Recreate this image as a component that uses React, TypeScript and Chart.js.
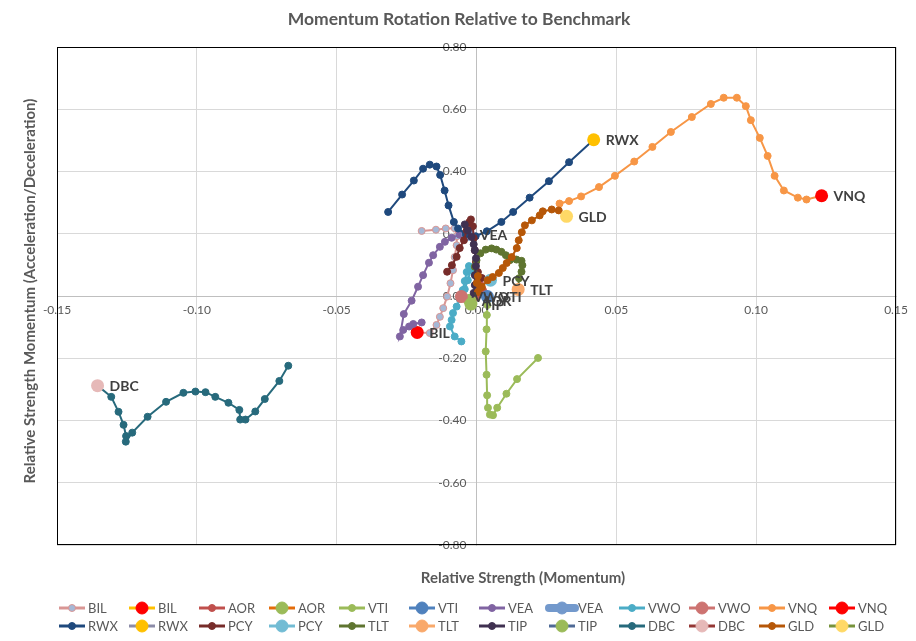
import React, { useEffect, useRef } from "react";
import { Chart, registerables } from "chart.js";

Chart.register(...registerables);

const TITLE = "Momentum Rotation Relative to Benchmark";
const X_TITLE = "Relative Strength (Momentum)";
const Y_TITLE = "Relative Strength Momentum (Acceleration/Deceleration)";

const X_MIN = -0.15;
const X_MAX = 0.15;
const X_STEP = 0.05;
const Y_MIN = -0.8;
const Y_MAX = 0.8;
const Y_STEP = 0.2;

const SYMBOLS = ["BIL", "AOR", "VTI", "VEA", "VWO", "VNQ", "RWX", "PCY", "TLT", "TIP", "DBC", "GLD"];

// Trails: [relative strength, momentum]; last point is the latest (head) value
const BIL: [number, number][] = [
  [-0.0196, 0.209], [-0.0145, 0.213], [-0.011, 0.217], [-0.0078, 0.218], [-0.007, 0.192],
  [-0.0071, 0.163], [-0.0078, 0.125], [-0.0084, 0.083], [-0.0093, 0.041], [-0.0105, -0.002],
  [-0.0119, -0.039], [-0.0131, -0.067], [-0.0143, -0.093], [-0.0167, -0.119], [-0.0212, -0.117],
];
const AOR: [number, number][] = [
  [0.0005, 0.051], [0.0015, 0.035], [0.0023, 0.019], [0.0012, 0.006], [-0.0002, -0.003], [-0.0024, -0.014],
];
const VTI: [number, number][] = [
  [0.022, -0.199], [0.0145, -0.267], [0.0107, -0.314], [0.0074, -0.359], [0.0059, -0.383],
  [0.0048, -0.381], [0.0041, -0.359], [0.0038, -0.319], [0.0036, -0.253], [0.0033, -0.178],
  [0.0036, -0.107], [0.0037, -0.061], [0.0039, -0.029], [0.0039, -0.002],
];
const VEA: [number, number][] = [
  [-0.0196, -0.085], [-0.0226, -0.09], [-0.0241, -0.098], [-0.0262, -0.109], [-0.0274, -0.13],
  [-0.026, -0.058], [-0.0232, -0.015], [-0.0209, 0.03], [-0.0191, 0.067], [-0.017, 0.107],
  [-0.0155, 0.131], [-0.0131, 0.158], [-0.0113, 0.174], [-0.0089, 0.187], [-0.006, 0.197],
  [-0.0038, 0.203], [-0.0031, 0.198],
];
const VWO: [number, number][] = [
  [-0.0054, -0.146], [-0.0078, -0.13], [-0.0095, -0.098], [-0.0089, -0.077], [-0.0084, -0.055],
  [-0.0071, -0.034], [-0.006, -0.01], [-0.0049, 0.019], [-0.0042, 0.048], [-0.0035, 0.077],
  [-0.0027, 0.096], [-0.002, 0.083], [-0.0031, 0.051], [-0.0042, 0.022], [-0.0054, -0.002],
];
const VNQ: [number, number][] = [
  [0.0297, 0.297], [0.0331, 0.305], [0.0374, 0.32], [0.0438, 0.35], [0.0495, 0.386],
  [0.0564, 0.432], [0.0629, 0.479], [0.0695, 0.527], [0.077, 0.575], [0.0838, 0.617],
  [0.0884, 0.637], [0.0931, 0.637], [0.0963, 0.61], [0.0981, 0.565], [0.1013, 0.508],
  [0.1041, 0.45], [0.1066, 0.386], [0.1099, 0.339], [0.1149, 0.316], [0.118, 0.31], [0.1234, 0.322],
];
const RWX: [number, number][] = [
  [-0.0316, 0.27], [-0.0266, 0.326], [-0.0224, 0.371], [-0.0191, 0.409], [-0.0167, 0.422],
  [-0.0143, 0.416], [-0.013, 0.389], [-0.0114, 0.339], [-0.01, 0.291], [-0.0081, 0.238],
  [-0.0066, 0.217], [-0.0038, 0.198], [-0.0003, 0.192], [0.0037, 0.208], [0.0089, 0.238],
  [0.0131, 0.27], [0.019, 0.316], [0.0259, 0.369], [0.0331, 0.43], [0.0419, 0.502],
];
const PCY: [number, number][] = [
  [-0.0105, 0.078], [-0.0088, 0.099], [-0.0071, 0.126], [-0.006, 0.154], [-0.0045, 0.179],
  [-0.0035, 0.211], [-0.0026, 0.237], [-0.002, 0.246], [-0.0013, 0.224], [-0.001, 0.186],
  [-0.0006, 0.147], [-0.0002, 0.109], [0.0005, 0.077], [0.0019, 0.058], [0.005, 0.051],
];
const TLT: [number, number][] = [
  [-0.0002, 0.067], [-0.0006, 0.094], [0.0, 0.115], [0.0014, 0.137], [0.0033, 0.149],
  [0.0054, 0.153], [0.0071, 0.149], [0.0089, 0.142], [0.0105, 0.131], [0.0119, 0.115],
  [0.0143, 0.117], [0.0161, 0.113], [0.0164, 0.099], [0.0161, 0.078], [0.0152, 0.057], [0.0149, 0.021],
];
const TIP: [number, number][] = [
  [-0.0042, 0.23], [-0.0031, 0.211], [-0.0018, 0.19], [-0.001, 0.166], [-0.0006, 0.147],
  [-0.0002, 0.121], [-0.0002, 0.096], [-0.0006, 0.067], [-0.0006, 0.035], [-0.001, 0.01], [-0.002, -0.026],
];
const DBC: [number, number][] = [
  [-0.0673, -0.224], [-0.0705, -0.273], [-0.0757, -0.331], [-0.0791, -0.371], [-0.0826, -0.397],
  [-0.0845, -0.397], [-0.0848, -0.366], [-0.0887, -0.343], [-0.0934, -0.324], [-0.0969, -0.309],
  [-0.1005, -0.307], [-0.1048, -0.311], [-0.111, -0.34], [-0.1176, -0.388], [-0.1231, -0.439],
  [-0.1254, -0.468], [-0.1253, -0.45], [-0.1262, -0.414], [-0.128, -0.372], [-0.1306, -0.324], [-0.1355, -0.288],
];
const GLD: [number, number][] = [
  [0.0005, 0.013], [0.0001, 0.042], [0.0005, 0.064], [0.0019, 0.029], [0.004, 0.051],
  [0.0058, 0.061], [0.008, 0.074], [0.0094, 0.09], [0.0108, 0.106], [0.0126, 0.125],
  [0.0144, 0.154], [0.0151, 0.179], [0.0162, 0.205], [0.0173, 0.227], [0.0198, 0.243],
  [0.0226, 0.259], [0.0237, 0.272], [0.0269, 0.278], [0.0294, 0.275], [0.0322, 0.256],
];

const TRAILS = [BIL, AOR, VTI, VEA, VWO, VNQ, RWX, PCY, TLT, TIP, DBC, GLD];

// Styles
const TRAIL_LINE = ["#D99694", "#C0504D", "#9BBB59", "#8064A2", "#4BACC6", "#F79646",
  "#1F497D", "#772C2A", "#5F7530", "#403151", "#276A7C", "#B65708"];
const TRAIL_FILL = ["#A5B8D6", "#C0504D", "#9BBB59", "#8064A2", "#4BACC6", "#F79646",
  "#1F497D", "#772C2A", "#5F7530", "#403151", "#276A7C", "#B65708"];
const HEAD_FILL = ["#FF0000", "#9BBB59", "#4F81BD", "#7399CC", "#CD7371", "#FF0000",
  "#FFC000", "#72BCD4", "#F9A96B", "#9BBB59", "#E6B9B8", "#FFD966"];
const HEAD_LINE = ["#FFC000", "#E46C0A", "#4F81BD", "#7399CC", "#CD7371", "#FF0000",
  "#8C8CA8", "#72BCD4", "#F9A96B", "#4F6A96", "#953735", "#77933C"];
const HEAD_LINE_W = [3, 3, 3, 8, 3, 3, 3, 3, 3, 3, 3, 3];

const FONT = "Lato, 'Open Sans', sans-serif";
const TEXT = "#595959";

const toXY = (arr: [number, number][]) => arr.map(([x, y]) => ({ x, y }));

const framePlugin = {
  id: "frame",
  beforeDraw(chart: any) {
    // keep y tick labels a little away from the vertical zero axis
    const ys = chart.scales.y;
    if (ys && ys.getLabelItems) {
      ys.getLabelItems(chart.chartArea).forEach((it: any) => {
        if (!it.__shifted) {
          it.options.translation[0] -= 10;
          it.__shifted = true;
        }
      });
    }
  },
  beforeDatasetsDraw(chart: any) {
    const { ctx, chartArea: a } = chart;
    ctx.save();
    ctx.strokeStyle = "#000000";
    ctx.lineWidth = 1;
    ctx.strokeRect(Math.round(a.left) + 0.5, Math.round(a.top) + 0.5, Math.round(a.right - a.left) - 1, Math.round(a.bottom - a.top) - 1);
    ctx.restore();
  },
};

const labelPlugin = {
  id: "headLabels",
  afterDatasetsDraw(chart: any) {
    const { ctx } = chart;
    ctx.save();
    ctx.font = `bold 14px ${FONT}`;
    ctx.fillStyle = "#404040";
    ctx.textBaseline = "middle";
    ctx.textAlign = "left";
    SYMBOLS.forEach((s, i) => {
      const meta = chart.getDatasetMeta(i * 2 + 1);
      const el = meta.data[0];
      if (!el) return;
      ctx.fillText(s, el.x + 12, el.y + 1);
    });
    ctx.restore();
  },
};

const textPlugin = {
  id: "texts",
  afterDraw(chart: any) {
    const { ctx, width } = chart;
    ctx.save();
    ctx.fillStyle = TEXT;
    ctx.textAlign = "center";
    ctx.textBaseline = "middle";
    ctx.font = `bold 17.5px ${FONT}`;
    ctx.fillText(TITLE, width / 2 + 1, 19);
    ctx.font = `bold 15px ${FONT}`;
    ctx.fillText(X_TITLE, 523, 578);
    ctx.translate(30, 291);
    ctx.rotate(-Math.PI / 2);
    ctx.fillText(Y_TITLE, 0, 0);
    ctx.restore();

    // Legend
    ctx.save();
    ctx.font = `13px ${FONT}`;
    ctx.textBaseline = "middle";
    ctx.textAlign = "left";
    const colW = 70;
    const x0 = 59;
    const rows = [608, 626];
    const items: any[] = [];
    SYMBOLS.forEach((s, i) => {
      items.push({ label: s, line: TRAIL_LINE[i], lw: 3, fill: TRAIL_FILL[i], stroke: TRAIL_LINE[i], r: 3.5 });
      items.push({ label: s, line: HEAD_LINE[i], lw: HEAD_LINE_W[i], fill: HEAD_FILL[i], stroke: HEAD_FILL[i], r: 6 });
    });
    items.forEach((it, k) => {
      const row = Math.floor(k / 12);
      const col = k % 12;
      const x = x0 + col * colW;
      const y = rows[row];
      ctx.strokeStyle = it.line;
      ctx.lineWidth = it.lw;
      ctx.lineCap = it.lw > 4 ? "round" : "butt";
      ctx.beginPath();
      ctx.moveTo(x, y);
      ctx.lineTo(x + 26, y);
      ctx.stroke();
      ctx.beginPath();
      ctx.arc(x + 13, y, it.r, 0, Math.PI * 2);
      ctx.fillStyle = it.fill;
      ctx.fill();
      ctx.lineWidth = 1;
      ctx.strokeStyle = it.stroke;
      ctx.stroke();
      ctx.fillStyle = TEXT;
      ctx.fillText(it.label, x + 29, y + 1);
    });
    ctx.restore();
  },
};

export default function App() {
  const ref = useRef<HTMLCanvasElement | null>(null);

  useEffect(() => {
    if (!ref.current) return;
    const datasets: any[] = [];
    TRAILS.forEach((trail, i) => {
      datasets.push({
        label: SYMBOLS[i],
        data: toXY(trail),
        showLine: true,
        borderColor: TRAIL_LINE[i],
        borderWidth: 2,
        backgroundColor: TRAIL_FILL[i],
        pointBorderColor: TRAIL_LINE[i],
        pointBackgroundColor: TRAIL_FILL[i],
        pointBorderWidth: 1,
        pointRadius: 3.5,
        order: 100 - i * 2,
      });
      datasets.push({
        label: SYMBOLS[i],
        data: toXY([trail[trail.length - 1]]),
        showLine: false,
        borderColor: HEAD_FILL[i],
        backgroundColor: HEAD_FILL[i],
        pointBorderColor: HEAD_FILL[i],
        pointBackgroundColor: HEAD_FILL[i],
        pointRadius: 6.5,
        pointBorderWidth: 0,
        order: 99 - i * 2,
      });
    });

    const chart = new Chart(ref.current, {
      type: "scatter",
      data: { datasets },
      options: {
        responsive: false,
        animation: false,
        devicePixelRatio: 1,
        layout: { padding: { left: 57, right: 20, top: 47, bottom: 96 } },
        plugins: { legend: { display: false }, tooltip: { enabled: false }, title: { display: false } },
        elements: { line: { tension: 0 } },
        scales: {
          x: {
            type: "linear",
            min: X_MIN,
            max: X_MAX,
            position: { y: 0 } as any,
            grid: { color: "#D9D9D9", drawTicks: false, lineWidth: 1 },
            border: { display: true, color: "#BFBFBF" },
            ticks: {
              stepSize: X_STEP,
              autoSkip: false,
              maxRotation: 0,
              padding: 7,
              color: TEXT,
              font: { family: FONT, size: 12 },
              callback: (v: any) => Number(v).toFixed(2),
            },
          },
          y: {
            type: "linear",
            min: Y_MIN,
            max: Y_MAX,
            position: { x: 0 } as any,
            grid: { color: "#D9D9D9", drawTicks: false, lineWidth: 1 },
            border: { display: true, color: "#BFBFBF" },
            ticks: {
              stepSize: Y_STEP,
              autoSkip: false,
              padding: 10,
              color: TEXT,
              font: { family: FONT, size: 12 },
              callback: (v: any) => Number(v).toFixed(2),
            },
          },
        },
      },
      plugins: [framePlugin, labelPlugin, textPlugin],
    });
    return () => chart.destroy();
  }, []);

  return (
    <div style={{ position: "absolute", left: 0, top: 0, width: 916, height: 641, background: "#fff" }}>
      <canvas ref={ref} width={916} height={641} style={{ width: 916, height: 641 }} />
    </div>
  );
}
